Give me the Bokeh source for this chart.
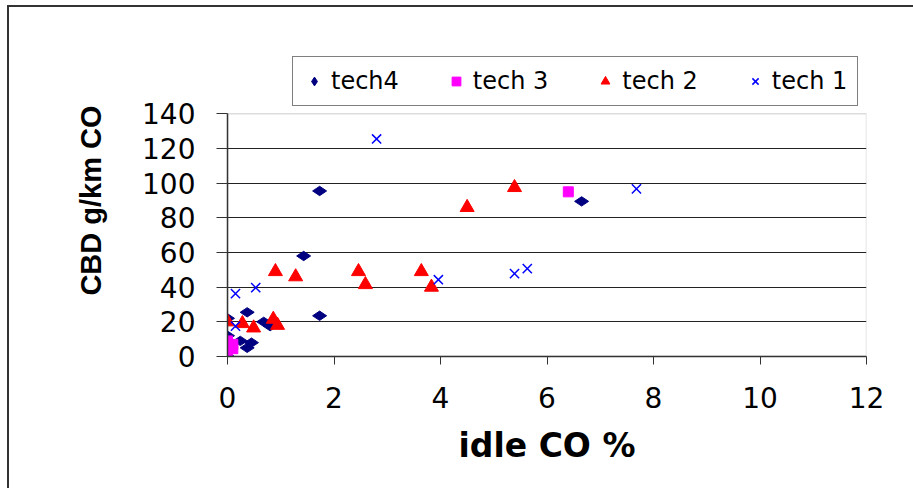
import math
from bokeh.plotting import figure
from bokeh.models import Legend, LegendItem, FixedTicker, BoxAnnotation
from bokeh.embed import file_html
from bokeh.resources import INLINE

# ---- data ----
tech4_x = [0.0, 0.0, 0.0, 0.37, 0.24, 0.45, 0.37, 0.68, 0.80, 1.43, 1.73, 1.73, 6.65]
tech4_y = [0.0, 12.0, 22.0, 25.5, 9.0, 8.0, 5.0, 20.0, 17.5, 58.0, 95.5, 23.5, 89.5]

tech3_x = [0.0, 0.0, 0.0, 0.10, 0.10, 6.40]
tech3_y = [9.0, 6.0, 3.5, 7.0, 4.5, 95.0]

tech2_x = [0.0, 0.28, 0.49, 0.86, 0.94, 0.90, 1.28, 2.46, 2.59, 3.64, 3.83, 4.50, 5.39]
tech2_y = [20.0, 19.0, 16.5, 21.5, 18.0, 49.0, 46.0, 49.0, 41.5, 49.0, 40.0, 86.0, 97.5]

tech1_x = [0.15, 0.15, 0.53, 2.80, 3.96, 5.39, 5.63, 7.68]
tech1_y = [17.5, 36.3, 39.7, 125.5, 44.3, 47.8, 50.7, 96.7]

x_ticks = [0, 2, 4, 6, 8, 10, 12]
y_ticks = [0, 20, 40, 60, 80, 100, 120, 140]
x_min, x_max = 0, 12
y_min, y_max = 0, 140

# frame extends above y_max to leave room for the legend box
p = figure(width=913, height=488, x_range=(x_min, x_max), y_range=(y_min, 180),
           output_backend="svg", toolbar_location=None,
           min_border_left=227, min_border_top=44,
           min_border_right=47, min_border_bottom=132)
p.styles = {"background": "linear-gradient(#333333,#333333) 7px 5px / 2px 100% no-repeat, "
                          "linear-gradient(#333333,#333333) 7px 5px / 100% 2px no-repeat, #ffffff"}

p.background_fill_color = "white"
p.border_fill_alpha = 0
p.outline_line_color = None

# plot-area border (grey top/right like the reference)
p.add_layout(BoxAnnotation(left=x_min, right=x_max, bottom=y_min, top=y_max,
                           fill_alpha=0, line_color="#8c8c8c", line_width=1.5,
                           level="underlay"))

p.xgrid.visible = False
p.ygrid.grid_line_color = "#222222"
p.ygrid.grid_line_width = 1
p.ygrid.ticker = FixedTicker(ticks=y_ticks[1:-1])

p.xaxis.ticker = FixedTicker(ticks=x_ticks)
p.yaxis.ticker = FixedTicker(ticks=y_ticks)
p.yaxis.bounds = (y_min, y_max)
for ax in (p.xaxis[0], p.yaxis[0]):
    ax.axis_line_color = "#333333"
    ax.axis_line_width = 1.5
    ax.major_tick_line_color = "#333333"
    ax.major_tick_in = 0
    ax.minor_tick_line_color = None
    ax.major_label_text_font = "DejaVu Sans"
    ax.major_label_text_font_size = "28px"
    ax.major_label_text_color = "black"
    ax.axis_label_text_color = "black"
    ax.axis_label_text_font_style = "bold"
p.xaxis.major_tick_out = 8
p.yaxis.major_tick_out = 11
p.xaxis.major_label_standoff = 22
p.yaxis.major_label_standoff = 21
p.xaxis.axis_label = "idle CO %"
p.xaxis.axis_label_text_font = "DejaVu Sans"
p.xaxis.axis_label_text_font_size = "33px"
p.xaxis.axis_label_standoff = 15
p.yaxis.axis_label = "CBD g/km CO"
p.yaxis.axis_label_text_font = "Liberation Sans"
p.yaxis.axis_label_text_font_size = "29px"
p.yaxis.axis_label_standoff = 32

r4 = p.scatter(tech4_x, tech4_y, marker="diamond", size=14, angle=math.pi / 2,
               fill_color="#000080", line_color="#000080")
r3 = p.scatter(tech3_x, tech3_y, marker="square", size=10,
               fill_color="#FF00FF", line_color="#FF00FF")
r2 = p.scatter(tech2_x, tech2_y, marker="triangle", size=14,
               fill_color="#FF0000", line_color="#FF0000")
r1 = p.scatter(tech1_x, tech1_y, marker="x", size=13,
               line_color="#0000FF", line_width=1.5)

legend = Legend(items=[LegendItem(label="tech4", renderers=[r4]),
                       LegendItem(label="tech 3", renderers=[r3]),
                       LegendItem(label="tech 2", renderers=[r2]),
                       LegendItem(label="tech 1", renderers=[r1])],
                orientation="horizontal", location=(65, 250),
                margin=0, padding=10, spacing=46,
                glyph_width=22, glyph_height=24, label_standoff=6,
                label_text_font="DejaVu Sans", label_text_font_size="24px",
                label_text_color="black",
                border_line_color="black", border_line_width=1,
                background_fill_color="white", background_fill_alpha=1.0)
p.add_layout(legend, "center")

open("out.html", "w").write(file_html(p, INLINE))
